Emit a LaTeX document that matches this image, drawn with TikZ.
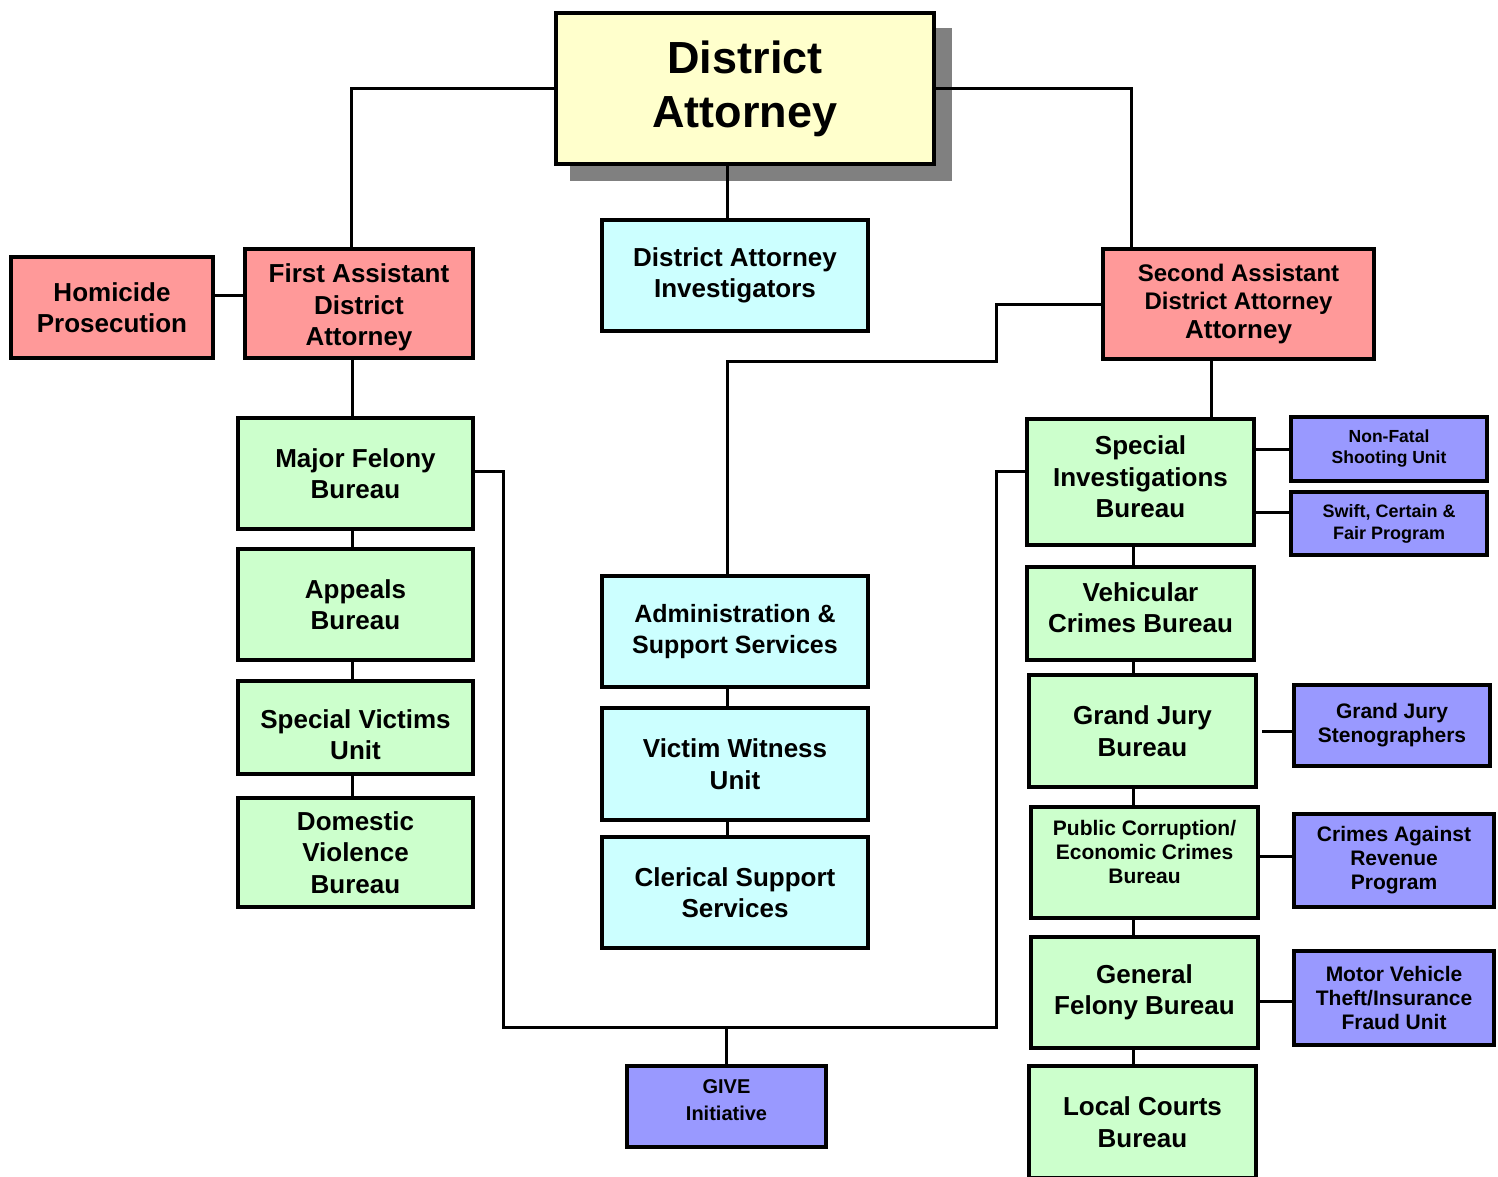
\documentclass[tikz,border=0pt]{standalone}
\usepackage{fontspec}
\setmainfont{Liberation Sans}
\usetikzlibrary{shadows}

\definecolor{headyellow}{HTML}{FFFFCC}
\definecolor{deputypink}{HTML}{FF9999}
\definecolor{bureaugreen}{HTML}{CCFFCC}
\definecolor{supportcyan}{HTML}{CCFFFF}
\definecolor{programblue}{HTML}{9999FF}

\begin{document}
\begin{tikzpicture}[x=1pt,y=-1pt,
  unit/.style={draw,line width=4pt,align=center,inner sep=0pt},
  wh/.style 2 args={minimum width=#1,minimum height=#2},
  big/.style={font=\bfseries\fontsize{45}{54}\selectfont},
  mid/.style={font=\bfseries\fontsize{26}{31.5}\selectfont},
  small/.style={font=\bfseries\fontsize{21}{24}\selectfont},
  tiny/.style={font=\bfseries\fontsize{17.5}{21}\selectfont},
  link/.style={line width=3pt}]
 \useasboundingbox (0,0) rectangle (1498,1177);

 % top of the office
 \node[unit,big,fill=headyellow,wh={378}{151},
   drop shadow={shadow xshift=16pt,shadow yshift=-16pt,shadow scale=1.01,fill=black!50,opacity=1}]
   (da) at (745,88.5) {District\\Attorney};
 \node[unit,mid,fill=supportcyan,wh={266}{111}] (dai) at (735,275.5) {District Attorney\\Investigators};
 \node[unit,mid,fill=deputypink,wh={202}{101}] (homicide) at (112,307.5) {Homicide\\Prosecution};
 \node[unit,mid,fill=deputypink,wh={228}{109}] (firstada) at (359,303.5) {\rule{0pt}{27pt}First Assistant\\District\\Attorney};
 \node[unit,fill=deputypink,wh={271}{110},font=\bfseries\fontsize{24}{28}\selectfont] (secondada) at (1238.5,304)
   {Second Assistant\\District Attorney\\[1pt]{\fontsize{26}{32}\selectfont Attorney}};

 % first assistant's bureaus
 \node[unit,mid,fill=bureaugreen,wh={235}{111}] (majorfel) at (355.5,473.5) {Major Felony\\Bureau};
 \node[unit,mid,fill=bureaugreen,wh={235}{111}] (appeals) at (355.5,604.5) {Appeals\\Bureau};
 \node[unit,mid,fill=bureaugreen,wh={235}{93}] (specvict) at (355.5,727.5) {\rule{0pt}{33pt}Special Victims\\Unit};
 \node[unit,mid,fill=bureaugreen,wh={235}{109}] (domviol) at (355.5,852.5) {Domestic\\Violence\\Bureau};

 % support column
 \node[unit,fill=supportcyan,wh={266}{111},font=\bfseries\fontsize{25}{31.5}\selectfont] (admin) at (735,631.5) {Administration \&\\Support Services};
 \node[unit,mid,fill=supportcyan,wh={266}{112}] (vicwit) at (735,764) {Victim Witness\\Unit};
 \node[unit,mid,fill=supportcyan,wh={266}{111}] (clerical) at (735,892.5) {Clerical Support\\Services};
 \node[unit,fill=programblue,wh={199}{81},font=\bfseries\fontsize{20}{27}\selectfont] (give) at (726.5,1106.5) {GIVE\\Initiative\\[-14pt]};

 % second assistant's bureaus
 \node[unit,mid,fill=bureaugreen,wh={227}{126}] (specinv) at (1140.5,482) {Special\\Investigations\\Bureau\\[-21.5pt]};
 \node[unit,mid,fill=bureaugreen,wh={227}{93}] (vehic) at (1140.5,613.5) {Vehicular\\Crimes Bureau\\[-19.5pt]};
 \node[unit,mid,fill=bureaugreen,wh={227}{112}] (grandjury) at (1142.5,731) {Grand Jury\\Bureau};
 \node[unit,small,fill=bureaugreen,wh={227}{111}] (pubcorr) at (1144.5,862.5) {Public Corruption/\\Economic Crimes\\Bureau\\[-2pt]};
 \node[unit,mid,fill=bureaugreen,wh={227}{111}] (genfel) at (1144.5,992.5) {General\\Felony Bureau};
 \node[unit,mid,fill=bureaugreen,wh={227}{112}] (localct) at (1142.5,1122) {Local Courts\\Bureau};

 % units and programs on the right
 \node[unit,tiny,fill=programblue,wh={196}{64}] (nonfatal) at (1389,449) {Non-Fatal\\Shooting Unit};
 \node[unit,fill=programblue,wh={196}{63},font=\bfseries\fontsize{18}{22}\selectfont] (swift) at (1389,523.5) {Swift, Certain \&\\Fair Program};
 \node[unit,small,fill=programblue,wh={196}{81}] (steno) at (1392,725.5) {Grand Jury\\Stenographers};
 \node[unit,small,fill=programblue,wh={200}{93}] (carp) at (1394,860.5) {Crimes Against\\Revenue\\Program};
 \node[unit,small,fill=programblue,wh={200}{94}] (motorv) at (1394,998) {Motor Vehicle\\Theft/Insurance\\Fraud Unit};

 \coordinate (lcol) at (352,0);
 \coordinate (ccol) at (727,0);
 \coordinate (rcol) at (1133,0);
 \coordinate (giveL) at (503,1027);
 \coordinate (giveR) at (996,1027);
 \coordinate (adminJ) at (996,361);

 % connectors
 \draw[link] (da.west) -| ([xshift=-8pt]firstada.north);
 \draw[link] (da.east) -| ([xshift=-107.5pt]secondada.north);
 \draw[link] (da.south -| ccol) -- (dai.north -| ccol);
 \draw[link] ([yshift=12.5pt]homicide.east) -- ([yshift=12.5pt]homicide.east -| firstada.west);
 \draw[link] (firstada.south -| lcol) -- (majorfel.north -| lcol);
 \foreach \a/\b in {majorfel/appeals,appeals/specvict,specvict/domviol}
   \draw[link] (\a.south -| lcol) -- (\b.north -| lcol);
 \draw[link] (secondada.west) -| (adminJ) -| (admin.north -| ccol);
 \foreach \a/\b in {admin/vicwit,vicwit/clerical}
   \draw[link] (\a.south -| ccol) -- (\b.north -| ccol);
 \draw[link] ([yshift=2.5pt]majorfel.east) -| (giveL) -- (giveR) |- ([yshift=11pt]specinv.west);
 \draw[link] (give.north) -- (give.north |- giveL);
 \draw[link] ([xshift=-27.5pt]secondada.south) -- ([xshift=-27.5pt]secondada.south |- specinv.north);
 \foreach \a/\b in {specinv/vehic,vehic/grandjury,grandjury/pubcorr,pubcorr/genfel,genfel/localct}
   \draw[link] (\a.south -| rcol) -- (\b.north -| rcol);
 \draw[link] (nonfatal.west) -- (nonfatal.west -| specinv.east);
 \draw[link] ([yshift=11.5pt]swift.west) -- ([yshift=11.5pt]swift.west -| specinv.east);
 \draw[link] ([xshift=4pt]grandjury.east) -- (grandjury.east -| steno.west);
 \draw[link] ([yshift=4.5pt]carp.west) -- ([yshift=4.5pt]carp.west -| pubcorr.east);
 \draw[link] ([yshift=-3pt]motorv.west) -- ([yshift=-3pt]motorv.west -| genfel.east);
\end{tikzpicture}
\end{document}
